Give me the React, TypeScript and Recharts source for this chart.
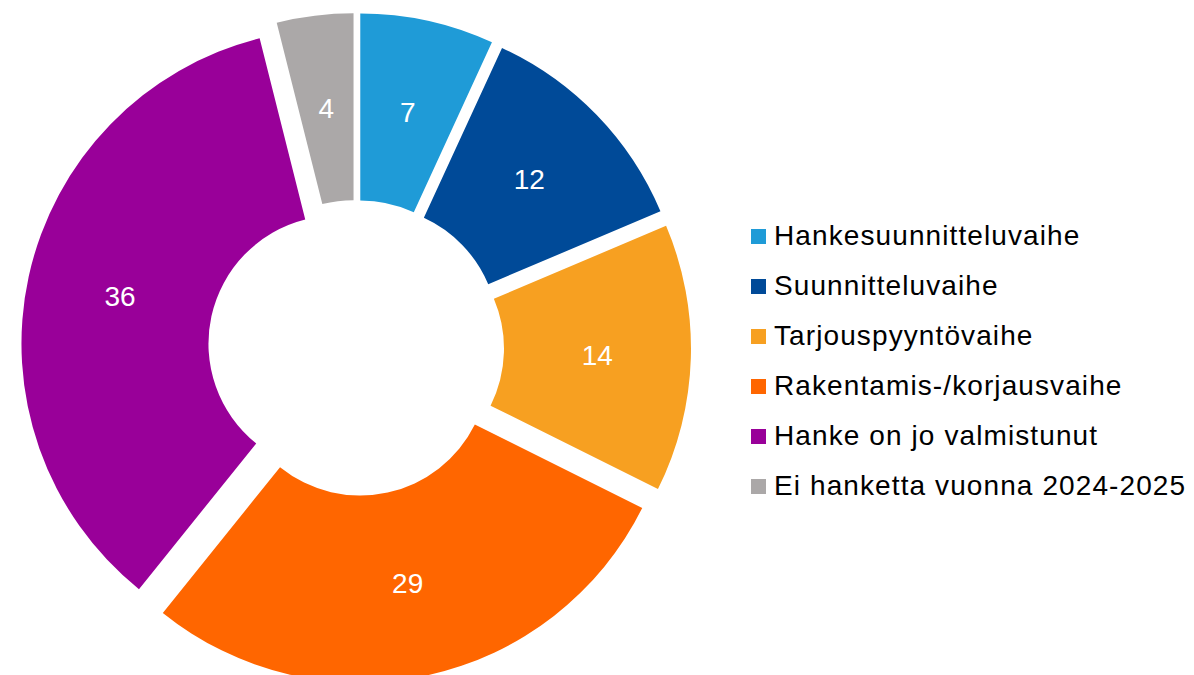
import React from 'react';
import { PieChart, Pie, Cell, Legend, Sector } from 'recharts';

const categories = [
  'Hankesuunnitteluvaihe',
  'Suunnitteluvaihe',
  'Tarjouspyyntövaihe',
  'Rakentamis-/korjausvaihe',
  'Hanke on jo valmistunut',
  'Ei hanketta vuonna 2024-2025',
];
const values = [7, 12, 14, 29, 36, 4];
const colors = ['#1F9BD7', '#004A98', '#F7A021', '#FF6600', '#990099', '#ABA8A8'];

const data = categories.map((name, i) => ({ name, value: values[i] }));

const RAD = Math.PI / 180;
const EXPLODE = 20;

// each slice pushed out along its mid angle, like Excel's point explosion
const ExplodedSector = (props: any) => {
  const { cx, cy, midAngle } = props;
  const dx = EXPLODE * Math.cos(-midAngle * RAD);
  const dy = EXPLODE * Math.sin(-midAngle * RAD);
  return <Sector {...props} cx={cx + dx} cy={cy + dy} />;
};

const renderLabel = (props: any) => {
  const { cx, cy, midAngle, innerRadius, outerRadius, value } = props;
  const r = (innerRadius + outerRadius) / 2 + EXPLODE;
  const x = cx + r * Math.cos(-midAngle * RAD);
  const y = cy + r * Math.sin(-midAngle * RAD);
  return (
    <text
      x={x}
      y={y}
      fill="#fff"
      fontSize={28}
      fontFamily="'Liberation Sans', Arial, sans-serif"
      textAnchor="middle"
      dominantBaseline="central"
    >
      {value}
    </text>
  );
};

const LegendContent = () => (
  <div style={{ fontFamily: "'Liberation Sans', Arial, sans-serif" }}>
    {categories.map((name, i) => (
      <div
        key={name}
        style={{ display: 'flex', alignItems: 'center', height: 50, whiteSpace: 'nowrap' }}
      >
        <span
          style={{ width: 15, height: 15, background: colors[i], marginRight: 8, flexShrink: 0 }}
        />
        <span style={{ fontSize: 28, letterSpacing: 1.1, color: '#000' }}>{name}</span>
      </div>
    ))}
  </div>
);

export default function App() {
  return (
    <div style={{ width: 1194, height: 675, background: '#fff' }}>
      <style>{'body{margin:0}'}</style>
      <PieChart width={1194} height={675}>
        <Pie
          data={data}
          dataKey="value"
          nameKey="name"
          cx={351}
          cy={343}
          innerRadius={128}
          outerRadius={315}
          startAngle={90}
          endAngle={-270}
          stroke="none"
          labelLine={false}
          label={renderLabel}
          shape={ExplodedSector}
          isAnimationActive={false}
        >
          {data.map((_, i) => (
            <Cell key={`cell-${i}`} fill={colors[i]} />
          ))}
        </Pie>
        <Legend
          content={<LegendContent />}
          layout="vertical"
          wrapperStyle={{ left: 751, top: 211, width: 440 }}
        />
      </PieChart>
    </div>
  );
}
